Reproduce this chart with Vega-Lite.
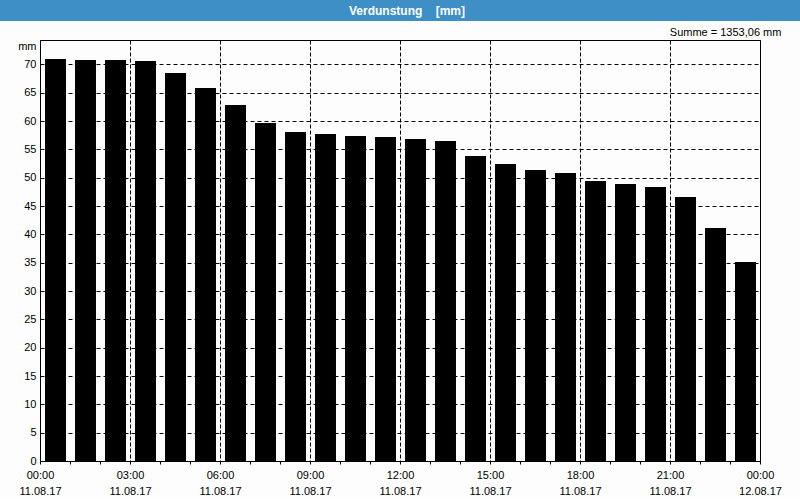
{
  "$schema": "https://vega.github.io/schema/vega-lite/v6.json",
  "background": "#fcfdfc",
  "padding": 0,
  "spacing": 5,
  "config": {
    "font": "Liberation Sans",
    "concat": {"spacing": 5}
  },
  "vconcat": [
    {
      "width": 760,
      "height": 21,
      "data": {"values": [{"label": "Verdunstung\u00a0\u00a0\u00a0\u00a0[mm]"}]},
      "view": {"fill": "#3d8fc6", "stroke": null},
      "mark": {"type": "text", "color": "white", "fontWeight": "bold", "fontSize": 12, "font": "Liberation Sans", "align": "center", "baseline": "middle", "dx": -13},
      "encoding": {
        "text": {"field": "label"},
        "y": {
          "datum": 0.5,
          "type": "quantitative",
          "scale": {"domain": [0, 1]},
          "axis": {
            "title": null,
            "labels": false,
            "ticks": false,
            "grid": false,
            "domain": true,
            "domainColor": "#3d8fc6",
            "domainWidth": 81,
            "translate": 0,
            "minExtent": 40,
            "maxExtent": 40
          }
        }
      }
    },
    {
      "width": 720,
      "height": 421,
      "title": {"text": "Summe = 1353,06 mm", "anchor": "end", "fontSize": 11, "fontWeight": "normal", "color": "black", "offset": 2, "font": "Liberation Sans"},
      "view": {"stroke": "black", "strokeWidth": 1, "fill": null},
      "data": {"values": [
        {"t": "2017-08-11T00:00:00", "v": 70.94},
        {"t": "2017-08-11T01:00:00", "v": 70.76},
        {"t": "2017-08-11T02:00:00", "v": 70.76},
        {"t": "2017-08-11T03:00:00", "v": 70.58},
        {"t": "2017-08-11T04:00:00", "v": 68.47},
        {"t": "2017-08-11T05:00:00", "v": 65.82},
        {"t": "2017-08-11T06:00:00", "v": 62.82},
        {"t": "2017-08-11T07:00:00", "v": 59.65},
        {"t": "2017-08-11T08:00:00", "v": 58.06},
        {"t": "2017-08-11T09:00:00", "v": 57.70},
        {"t": "2017-08-11T10:00:00", "v": 57.35},
        {"t": "2017-08-11T11:00:00", "v": 57.17},
        {"t": "2017-08-11T12:00:00", "v": 56.82},
        {"t": "2017-08-11T13:00:00", "v": 56.47},
        {"t": "2017-08-11T14:00:00", "v": 53.82},
        {"t": "2017-08-11T15:00:00", "v": 52.41},
        {"t": "2017-08-11T16:00:00", "v": 51.35},
        {"t": "2017-08-11T17:00:00", "v": 50.82},
        {"t": "2017-08-11T18:00:00", "v": 49.41},
        {"t": "2017-08-11T19:00:00", "v": 48.88},
        {"t": "2017-08-11T20:00:00", "v": 48.35},
        {"t": "2017-08-11T21:00:00", "v": 46.59},
        {"t": "2017-08-11T22:00:00", "v": 41.12},
        {"t": "2017-08-11T23:00:00", "v": 35.12}
      ]},
      "mark": {"type": "bar", "color": "black", "width": {"band": 0.733}},
      "encoding": {
        "x": {
          "field": "t",
          "type": "temporal",
          "timeUnit": "yearmonthdatehours",
          "scale": {
            "domain": [
              {"year": 2017, "month": 8, "date": 11, "hours": 0},
              {"year": 2017, "month": 8, "date": 12, "hours": 0}
            ],
            "nice": false,
            "padding": 0
          },
          "axis": {
            "title": null,
            "values": [
              {"year": 2017, "month": 8, "date": 11, "hours": 0},
              {"year": 2017, "month": 8, "date": 11, "hours": 1},
              {"year": 2017, "month": 8, "date": 11, "hours": 2},
              {"year": 2017, "month": 8, "date": 11, "hours": 3},
              {"year": 2017, "month": 8, "date": 11, "hours": 4},
              {"year": 2017, "month": 8, "date": 11, "hours": 5},
              {"year": 2017, "month": 8, "date": 11, "hours": 6},
              {"year": 2017, "month": 8, "date": 11, "hours": 7},
              {"year": 2017, "month": 8, "date": 11, "hours": 8},
              {"year": 2017, "month": 8, "date": 11, "hours": 9},
              {"year": 2017, "month": 8, "date": 11, "hours": 10},
              {"year": 2017, "month": 8, "date": 11, "hours": 11},
              {"year": 2017, "month": 8, "date": 11, "hours": 12},
              {"year": 2017, "month": 8, "date": 11, "hours": 13},
              {"year": 2017, "month": 8, "date": 11, "hours": 14},
              {"year": 2017, "month": 8, "date": 11, "hours": 15},
              {"year": 2017, "month": 8, "date": 11, "hours": 16},
              {"year": 2017, "month": 8, "date": 11, "hours": 17},
              {"year": 2017, "month": 8, "date": 11, "hours": 18},
              {"year": 2017, "month": 8, "date": 11, "hours": 19},
              {"year": 2017, "month": 8, "date": 11, "hours": 20},
              {"year": 2017, "month": 8, "date": 11, "hours": 21},
              {"year": 2017, "month": 8, "date": 11, "hours": 22},
              {"year": 2017, "month": 8, "date": 11, "hours": 23},
              {"year": 2017, "month": 8, "date": 12, "hours": 0}
            ],
            "labelExpr": "hours(datum.value) % 3 == 0 ? [timeFormat(datum.value, '%H:%M'), timeFormat(datum.value, '%d.%m.%y')] : ''",
            "labelOverlap": false,
            "labelFlush": false,
            "labelFontSize": 11,
            "labelColor": "black",
            "labelLineHeight": 16,
            "labelPadding": 5,
            "ticks": true,
            "tickSize": 3,
            "tickColor": "black",
            "domain": false,
            "grid": true,
            "gridColor": "black",
            "gridDash": [4, 2],
            "gridOpacity": {"condition": {"test": "hours(datum.value) % 3 == 0", "value": 1}, "value": 0}
          }
        },
        "y": {
          "field": "v",
          "type": "quantitative",
          "scale": {"domain": [0, 74.3], "nice": false, "zero": true},
          "axis": {
            "values": [0, 5, 10, 15, 20, 25, 30, 35, 40, 45, 50, 55, 60, 65, 70],
            "title": "mm",
            "titleAngle": 0,
            "titleAlign": "right",
            "titleBaseline": "middle",
            "titleX": -4,
            "titleY": 6,
            "titleFontWeight": "normal",
            "titleFontSize": 11,
            "titleColor": "black",
            "labelFontSize": 11,
            "labelColor": "black",
            "labelPadding": 4,
            "ticks": false,
            "domain": false,
            "grid": true,
            "gridColor": "black",
            "gridDash": [4, 3],
            "minExtent": 38,
            "maxExtent": 38
          }
        }
      }
    }
  ]
}
